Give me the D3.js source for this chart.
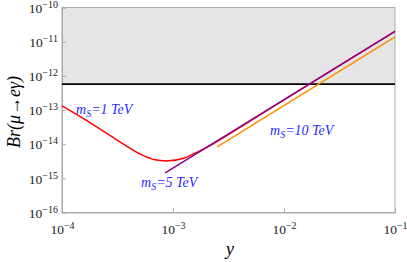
<!DOCTYPE html>
<html>
<head>
<meta charset="utf-8">
<script src="https://cdn.jsdelivr.net/npm/d3@7"></script>
<style>
  body { margin: 0; background: #fff; }
  svg text { font-family: "Liberation Serif", "DejaVu Serif", serif; }
</style>
</head>
<body>
<div id="chart"></div>
<script>
// coupling y on the x axis, branching ratio on the y axis
const xTicks = [1e-4, 1e-3, 1e-2, 1e-1];
const yTicks = [1e-16, 1e-15, 1e-14, 1e-13, 1e-12, 1e-11, 1e-10];

// m_S = 1 TeV (red)
const yRed = [1e-4, 1.73e-4, 3.46e-4, 5.24e-4, 6.9e-4, 9.1e-4, 1.2e-3, 1.58e-3, 2.09e-3, 1e-2, 1e-1];
const brRed = [1.32e-13, 4.58e-14, 1.07e-14, 4.86e-15, 3.48e-15, 3.25e-15, 3.72e-15, 5.46e-15, 8.6e-15, 1.99e-13, 2.0e-11];
// m_S = 5 TeV (purple)
const yPurple = [8.5e-4, 1e-1];
const brPurple = [1.44e-15, 2.0e-11];
// m_S = 10 TeV (orange)
const yOrange = [2.5e-3, 1e-1];
const brOrange = [8.3e-15, 1.38e-11];
// experimental bound
const megLimit = 5.7e-13;

const width = 407, height = 262;
const margin = { top: 7.5, right: 12, bottom: 49.5, left: 62 };

const svg = d3.select('#chart')
  .append('svg')
  .attr('width', width)
  .attr('height', height);

const x = d3.scaleLog()
  .domain([1e-4, 1e-1])
  .range([margin.left, width - margin.right]);

const y = d3.scaleLog()
  .domain([1e-16, 1e-10])
  .range([height - margin.bottom, margin.top]);

// excluded region
svg.append('rect')
  .attr('x', x(1e-4))
  .attr('y', y(1e-10))
  .attr('width', x(1e-1) - x(1e-4))
  .attr('height', y(megLimit) - y(1e-10))
  .attr('fill', '#e5e5e5');

// frame
svg.append('rect')
  .attr('x', x(1e-4))
  .attr('y', y(1e-10))
  .attr('width', x(1e-1) - x(1e-4))
  .attr('height', y(1e-16) - y(1e-10))
  .attr('fill', 'none')
  .attr('stroke', '#aaa')
  .attr('stroke-width', 1);

function supLabel(sel, exp, anchor) {
  sel.text(null).attr('text-anchor', anchor).attr('font-size', 13.5);
  sel.append('tspan').text('10');
  sel.append('tspan')
    .attr('font-size', 10)
    .attr('dy', '-0.5em')
    .text('\u2212' + exp);
}

// axes
const xAxis = svg.append('g')
  .attr('transform', `translate(0,${y(1e-16)})`)
  .call(d3.axisBottom(x).tickValues(xTicks).tickSize(-4).tickPadding(10).tickFormat(''));

xAxis.selectAll('.tick text').each(function(d) {
  supLabel(d3.select(this).attr('dy', '0.85em'), Math.round(-Math.log10(d)), 'middle');
});

const yAxis = svg.append('g')
  .attr('transform', `translate(${x(1e-4)},0)`)
  .call(d3.axisLeft(y).tickValues(yTicks).tickSize(-4).tickPadding(4).tickFormat(''));

yAxis.selectAll('.tick text').each(function(d) {
  supLabel(d3.select(this).attr('dy', '0.35em'), Math.round(-Math.log10(d)), 'end');
});

[xAxis, yAxis].forEach(a => {
  a.select('.domain').attr('stroke', '#aaa');
  a.selectAll('.tick line').attr('stroke', '#aaa');
  a.selectAll('.tick text').attr('fill', '#222');
});

// bound line
svg.append('line')
  .attr('x1', x(1e-4))
  .attr('x2', x(1e-1))
  .attr('y1', y(megLimit))
  .attr('y2', y(megLimit))
  .attr('stroke', '#000')
  .attr('stroke-width', 1.6);

// curves
const line = d3.line()
  .x(d => x(d[0]))
  .y(d => y(d[1]))
  .curve(d3.curveCatmullRom);

const series = [
  { xs: yRed, ys: brRed, color: '#ff0000' },
  { xs: yPurple, ys: brPurple, color: '#8b008b' },
  { xs: yOrange, ys: brOrange, color: '#ff8c00' }
];

series.forEach(s => {
  svg.append('path')
    .datum(d3.zip(s.xs, s.ys))
    .attr('d', line)
    .attr('fill', 'none')
    .attr('stroke', s.color)
    .attr('stroke-width', 1.5);
});

// curve labels
const labels = [
  { mass: '1', x: 76, y: 114 },
  { mass: '5', x: 141, y: 187 },
  { mass: '10', x: 270, y: 135 }
];

labels.forEach(l => {
  const t = svg.append('text')
    .attr('x', l.x)
    .attr('y', l.y)
    .attr('fill', '#2a2aff')
    .attr('font-style', 'italic')
    .attr('font-size', 14);
  t.append('tspan').text('m');
  t.append('tspan').attr('font-size', 10).attr('dy', 3).text('S');
  t.append('tspan').attr('dy', -3).text('=' + l.mass + ' TeV');
});

// axis titles
svg.append('text')
  .attr('x', 230)
  .attr('y', 255)
  .attr('text-anchor', 'middle')
  .attr('font-style', 'italic')
  .attr('font-size', 18)
  .text('y');

svg.append('text')
  .attr('transform', `translate(20,112) rotate(-90)`)
  .attr('text-anchor', 'middle')
  .attr('font-style', 'italic')
  .attr('font-size', 18)
  .text('Br(\u03bc\u2192e\u03b3)');
</script>
</body>
</html>
